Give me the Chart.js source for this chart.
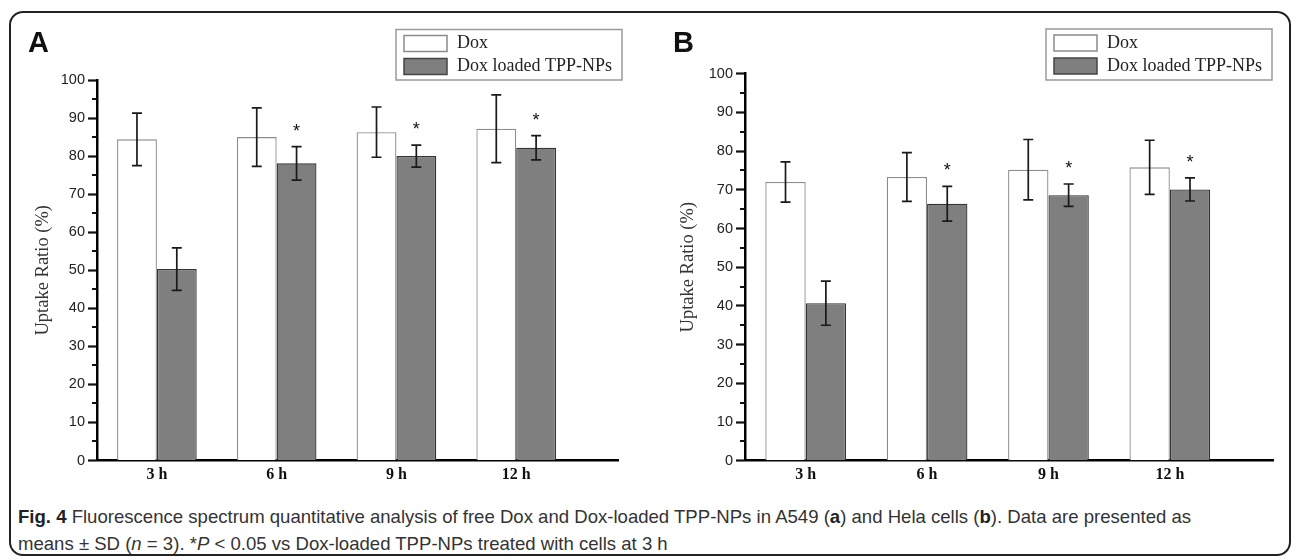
<!DOCTYPE html>
<html>
<head>
<meta charset="utf-8">
<script src="https://cdn.jsdelivr.net/npm/chart.js@4.4.1/dist/chart.umd.min.js"></script>
<style>
  body { margin: 0; background: #fff; width: 1295px; height: 559px; position: relative; overflow: hidden; }
  .frame { position: absolute; left: 9px; top: 11px; width: 1282px; height: 545px; box-sizing: border-box;
           border: 2px solid #222; border-radius: 14px; }
  .panel { position: absolute; top: 0; height: 500px; }
  .letter { position: absolute; font: bold 29px "Liberation Sans", Arial, sans-serif; line-height: 29px; color: #111; }
  .caption { position: absolute; left: 18px; top: 503px; color: #333; white-space: nowrap;
             font-family: "Liberation Sans", Arial, sans-serif; font-size: 19px; line-height: 27px;
             transform-origin: 0 0; }
  .caption b { color: #222; }
</style>
</head>
<body>
<div class="frame"></div>
<div class="panel" style="left:0;width:645px"><canvas id="chartA" width="645" height="500"></canvas></div>
<div class="panel" style="left:645px;width:650px"><canvas id="chartB" width="650" height="500"></canvas></div>
<div class="letter" style="left:28px;top:28px">A</div>
<div class="letter" style="left:673px;top:28px">B</div>
<div class="caption" id="caption">
  <span id="capLine1"><b>Fig. 4</b> Fluorescence spectrum quantitative analysis of free Dox and Dox-loaded TPP-NPs in A549 (<b>a</b>) and Hela cells (<b>b</b>). Data are presented as</span><br>
  <span>means ± SD (<i>n</i> = 3). *<i>P</i> &lt; 0.05 vs Dox-loaded TPP-NPs treated with cells at 3 h</span>
</div>
<script>
// data
const categories = ['3 h', '6 h', '9 h', '12 h'];
const seriesNames = ['Dox', 'Dox loaded TPP-NPs'];

// panel A (A549)
const doxA = [84.4, 85.0, 86.3, 87.2];
const doxErrA = [6.9, 7.7, 6.6, 8.9];
const tppA = [50.3, 78.1, 80.0, 82.2];
const tppErrA = [5.6, 4.4, 2.9, 3.2];

// panel B (Hela)
const doxB = [72.0, 73.3, 75.2, 75.8];
const doxErrB = [5.2, 6.3, 7.8, 7.0];
const tppB = [40.7, 66.4, 68.6, 70.1];
const tppErrB = [5.7, 4.5, 2.9, 3.0];

// * marks (vs TPP-NPs at 3 h)
const sigTpp = [false, true, true, true];
const yTickStep = 10;

const serif = '"Liberation Serif", "Times New Roman", serif';
const sans = '"Liberation Sans", Arial, sans-serif';

// error bars, stars, minor ticks and boxed legend
const extrasPlugin = {
  id: 'extras',
  afterDatasetsDraw(chart) {
    const ctx = chart.ctx;
    const y = chart.scales.y;
    ctx.save();
    chart.data.datasets.forEach((ds, i) => {
      const meta = chart.getDatasetMeta(i);
      meta.data.forEach((bar, j) => {
        const v = ds.data[j].y;
        const e = ds.errors[j];
        const yt = y.getPixelForValue(v + e);
        const yb = y.getPixelForValue(v - e);
        ctx.strokeStyle = '#1a1a1a';
        ctx.lineWidth = 1.7;
        ctx.beginPath();
        ctx.moveTo(bar.x, yt); ctx.lineTo(bar.x, yb);
        ctx.moveTo(bar.x - 5, yt); ctx.lineTo(bar.x + 5, yt);
        ctx.moveTo(bar.x - 5, yb); ctx.lineTo(bar.x + 5, yb);
        ctx.stroke();
        if (ds.sig && ds.sig[j]) {
          ctx.fillStyle = '#111';
          ctx.font = '18px ' + sans;
          ctx.textAlign = 'center';
          ctx.textBaseline = 'alphabetic';
          ctx.fillText('*', bar.x, yt - 10);
        }
      });
    });
    ctx.restore();
  },
  afterDraw(chart, args, opts) {
    const ctx = chart.ctx;
    const y = chart.scales.y;
    const left = chart.chartArea.left;
    ctx.save();
    // minor ticks
    ctx.strokeStyle = '#111';
    ctx.lineWidth = 2;
    ctx.beginPath();
    for (let v = yTickStep / 2; v < y.max; v += yTickStep) {
      const py = Math.round(y.getPixelForValue(v));
      ctx.moveTo(left - 5, py); ctx.lineTo(left, py);
    }
    ctx.stroke();
    // legend box
    const L = opts.legend;
    ctx.strokeStyle = '#9a9a9a';
    ctx.lineWidth = 1.5;
    ctx.strokeRect(L.x, L.y, L.w, L.h);
    chart.data.datasets.forEach((ds, i) => {
      const sy = L.y + 6 + i * 23;
      ctx.fillStyle = ds.backgroundColor;
      ctx.fillRect(L.x + 8, sy, 43, 16);
      ctx.strokeStyle = ds.legendBorder;
      ctx.lineWidth = 1.5;
      ctx.strokeRect(L.x + 8, sy, 43, 16);
      ctx.fillStyle = '#222';
      ctx.font = '18px ' + serif;
      ctx.textAlign = 'left';
      ctx.textBaseline = 'middle';
      ctx.fillText(ds.label, L.x + 61, sy + 8);
    });
    ctx.restore();
  }
};

function makePanel(id, dox, doxErr, tpp, tppErr, area, legend) {
  const toPoints = vals => vals.map((v, i) => ({ x: i + 1, y: v }));
  return new Chart(document.getElementById(id), {
    type: 'bar',
    data: {
      datasets: [
        { label: seriesNames[0], data: toPoints(dox), errors: doxErr,
          backgroundColor: '#ffffff', borderColor: '#8c8c8c', legendBorder: '#8c8c8c', borderWidth: 1.3 },
        { label: seriesNames[1], data: toPoints(tpp), errors: tppErr, sig: sigTpp,
          backgroundColor: '#7f7f7f', borderColor: '#333333', legendBorder: '#444444', borderWidth: 1.3 }
      ]
    },
    options: {
      responsive: false,
      animation: false,
      events: [],
      categoryPercentage: 0.665,
      barPercentage: 1.0,
      layout: { padding: { left: 0, top: area.top, right: area.right, bottom: area.bottom } },
      plugins: { legend: { display: false }, tooltip: { enabled: false }, extras: { legend: legend } },
      scales: {
        x: {
          type: 'linear', min: 0.5, max: 4.85, offset: false,
          afterBuildTicks: s => { s.ticks = categories.map((c, i) => ({ value: i + 1 })); },
          afterFit: s => { s.height = 30; },
          ticks: { callback: (v) => categories[v - 1] || '', font: { family: serif, size: 16, weight: 'bold' },
                   color: '#111', padding: 5, maxRotation: 0, autoSkip: false },
          grid: { display: false, drawTicks: false },
          border: { display: true, color: '#000', width: 2.5 }
        },
        y: {
          min: 0, max: 100,
          afterFit: s => { s.width = area.left; },
          ticks: { stepSize: yTickStep, font: { family: sans, size: 14.5 }, color: '#222', padding: 3 },
          grid: { drawOnChartArea: false, drawTicks: true, tickLength: 9, tickWidth: 2.2, tickColor: '#111' },
          border: { display: true, color: '#000', width: 2.5 },
          title: { display: true, text: 'Uptake Ratio (%)', font: { family: serif, size: 18.5 }, color: '#333',
                   padding: { top: 32, bottom: 0 } }
        }
      }
    },
    plugins: [extrasPlugin]
  });
}

makePanel('chartA', doxA, doxErrA, tppA, tppErrA,
  { left: 97, top: 80, right: 27, bottom: 9.5 }, { x: 396, y: 29.5, w: 226, h: 50.5 });
makePanel('chartB', doxB, doxErrB, tppB, tppErrB,
  { left: 100, top: 73.7, right: 22, bottom: 9.3 }, { x: 401, y: 29, w: 226, h: 51 });

// squeeze the caption so its first line has the width it has in the figure (condensed face)
const cap = document.getElementById('caption');
const w1 = document.getElementById('capLine1').getBoundingClientRect().width;
cap.style.transform = 'scaleX(' + (1173 / w1).toFixed(4) + ')';
</script>
</body>
</html>
